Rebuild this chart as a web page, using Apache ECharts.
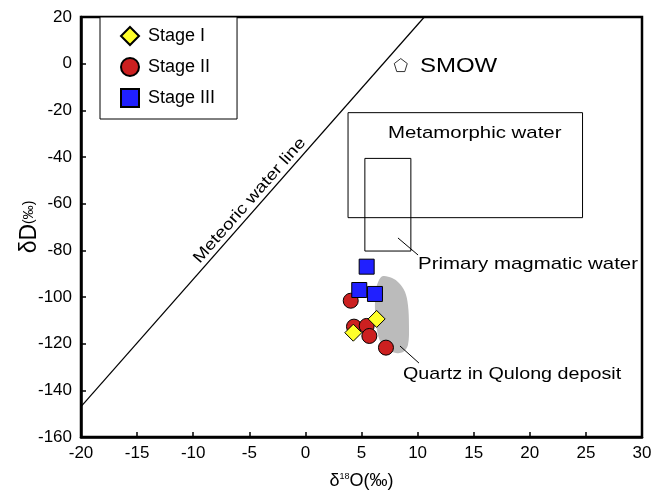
<!DOCTYPE html>
<html>
<head>
<meta charset="utf-8">
<script src="https://cdn.jsdelivr.net/npm/echarts@6/dist/echarts.min.js"></script>
<style>
  html, body { margin: 0; padding: 0; background: #fff; }
  #main { width: 654px; height: 494px; }
</style>
</head>
<body>
<div id="main"></div>
<script>
// values: [δ18O, δD]
var stage1 = [[6.35, -109.4], [4.27, -115.3]];
var stage2 = [[4.04, -101.6], [4.33, -112.7], [5.46, -112.4], [5.70, -116.7], [7.18, -121.7]];
var stage3 = [[5.46, -87.0], [4.8, -97.0], [6.2, -98.7]];
var smow = [[8.5, -0.6]];

// reference lines / fields
var meteoricLine = [[-20, -147], [10.6, 20]];
var metamorphicBox = [[3.8, -21], [24.7, -21], [24.7, -66], [3.8, -66], [3.8, -21]];
var magmaticBox = [[5.3, -40.6], [9.4, -40.6], [9.4, -80.3], [5.3, -80.3], [5.3, -40.6]];
var qulongQuartz = [
  [6.92, -91.0], [7.72, -91.9], [8.34, -94.0], [8.88, -97.9], [9.14, -103.4],
  [9.23, -112.0], [9.14, -120.6], [8.70, -123.6], [8.07, -124.0], [7.36, -122.7],
  [6.74, -119.7], [6.38, -114.2], [6.20, -105.6], [6.29, -97.0], [6.56, -92.7]
];
var magmaticLeader = [[8.25, -74.7], [10.04, -82.0]];
var quartzLeader = [[8.43, -121.0], [10.12, -128.3]];

var xMin = -20, xMax = 30, xStep = 5;
var yMin = -160, yMax = 20, yStep = 20;

// text notes, anchored in data space
var notes = [
  { text: 'Metamorphic water', at: [7.36, -29.7], size: 17, sx: 1.2 },
  { text: 'Primary magmatic water', at: [10.04, -85.9], size: 17, sx: 1.2 },
  { text: 'Quartz in Qulong deposit', at: [8.70, -133.0], size: 17, sx: 1.16 },
  { text: 'SMOW', at: [10.21, -1.0], size: 20, sx: 1.2 },
  { text: 'Meteoric water line', at: [-4.3, -61.5], size: 16, sx: 1.2, rotate: 48.6, center: true }
];

var FONT = 'Liberation Sans, Arial, sans-serif';

function outline(name, data, w) {
  return {
    name: name, type: 'line', data: data, symbol: 'none', silent: true,
    lineStyle: { color: '#000', width: w || 1 }, z: 1, animation: false
  };
}

var chart = echarts.init(document.getElementById('main'));

var option = {
  animation: false,
  backgroundColor: '#fff',
  textStyle: { fontFamily: FONT },
  grid: {
    left: 81, right: 12, top: 17, bottom: 57, outerBoundsMode: 'none',
    show: true, borderColor: '#000', borderWidth: 2.5
  },
  legend: {
    data: ['Stage I', 'Stage II', 'Stage III'],
    orient: 'vertical',
    left: 100, top: 17,
    padding: [9, 22, 11, 20],
    itemWidth: 18, itemHeight: 18, itemGap: 11,
    borderColor: '#000', borderWidth: 1,
    backgroundColor: '#fff',
    textStyle: { fontSize: 18, color: '#000', fontFamily: FONT, padding: [0, 0, 0, 4] }
  },
  xAxis: {
    type: 'value', min: xMin, max: xMax, interval: xStep,
    name: 'δ{sup|18}O(‰)', nameLocation: 'middle', nameGap: 35, nameMoveOverlap: false,
    nameTextStyle: {
      fontSize: 18, color: '#000', fontFamily: FONT,
      rich: { sup: { fontSize: 9, color: '#000', verticalAlign: 'top', padding: [0, 0, 8, 0] } }
    },
    splitLine: { show: false },
    axisLine: { onZero: false, lineStyle: { color: '#000', width: 2.5 } },
    axisTick: { inside: true, length: 5, lineStyle: { color: '#000', width: 1.5 } },
    axisLabel: { fontSize: 17, color: '#000', margin: 8 }
  },
  yAxis: {
    type: 'value', min: yMin, max: yMax, interval: yStep,
    name: '{big|δD}{small|(‰)}', nameLocation: 'middle', nameGap: 40, nameRotate: 90,
    nameMoveOverlap: false,
    nameTextStyle: {
      color: '#000', fontFamily: FONT,
      rich: { big: { fontSize: 23, color: '#000' }, small: { fontSize: 14, color: '#000' } }
    },
    splitLine: { show: false },
    axisLine: { onZero: false, lineStyle: { color: '#000', width: 2.5 } },
    axisTick: { inside: true, length: 5, lineStyle: { color: '#000', width: 1.5 } },
    axisLabel: { fontSize: 17, color: '#000', margin: 9 }
  },
  series: [
    {
      name: 'Qulong quartz', type: 'custom', silent: true, z: 1,
      data: [0],
      renderItem: function (params, api) {
        var pts = qulongQuartz.map(function (p) { return api.coord(p); });
        return { type: 'polygon', shape: { points: pts, smooth: 0.35 }, style: { fill: '#bbbbbb' } };
      }
    },
    outline('Meteoric', meteoricLine, 1.2),
    outline('Metamorphic', metamorphicBox),
    outline('Magmatic', magmaticBox),
    outline('leader1', magmaticLeader),
    outline('leader2', quartzLeader),
    {
      name: 'SMOW', type: 'scatter', data: smow, z: 3,
      symbol: 'path://M0,-10 L9.51,-3.09 L5.88,8.09 L-5.88,8.09 L-9.51,-3.09 Z',
      symbolSize: 13,
      itemStyle: { color: '#fff', borderColor: '#000', borderWidth: 1 }
    },
    {
      name: 'Stage II', type: 'scatter', data: stage2, symbol: 'circle', symbolSize: 15, z: 3,
      itemStyle: { color: '#cc2020', borderColor: '#000', borderWidth: 1, opacity: 1 }
    },
    {
      name: 'Stage I', type: 'scatter', data: stage1, symbol: 'diamond', symbolSize: 17, z: 4,
      itemStyle: { color: '#ffff2a', borderColor: '#000', borderWidth: 1, opacity: 1 }
    },
    {
      name: 'Stage III', type: 'scatter', data: stage3, symbol: 'rect', symbolSize: 15, z: 5,
      itemStyle: { color: '#2020ff', borderColor: '#000', borderWidth: 1, opacity: 1 }
    }
  ]
};

chart.setOption(option);

// place the annotation texts from their data anchors
var graphics = notes.map(function (n) {
  var p = chart.convertToPixel({ gridIndex: 0 }, n.at);
  return {
    type: 'text', x: p[0], y: p[1],
    rotation: (n.rotate || 0) * Math.PI / 180,
    scaleX: n.sx,
    z: 10,
    style: {
      text: n.text, fontSize: n.size, fontFamily: FONT, fill: '#000',
      align: n.center ? 'center' : 'left',
      verticalAlign: n.center ? 'bottom' : 'middle',
      y: n.center ? -2 : 0
    }
  };
});
chart.setOption({ graphic: graphics });
</script>
</body>
</html>
